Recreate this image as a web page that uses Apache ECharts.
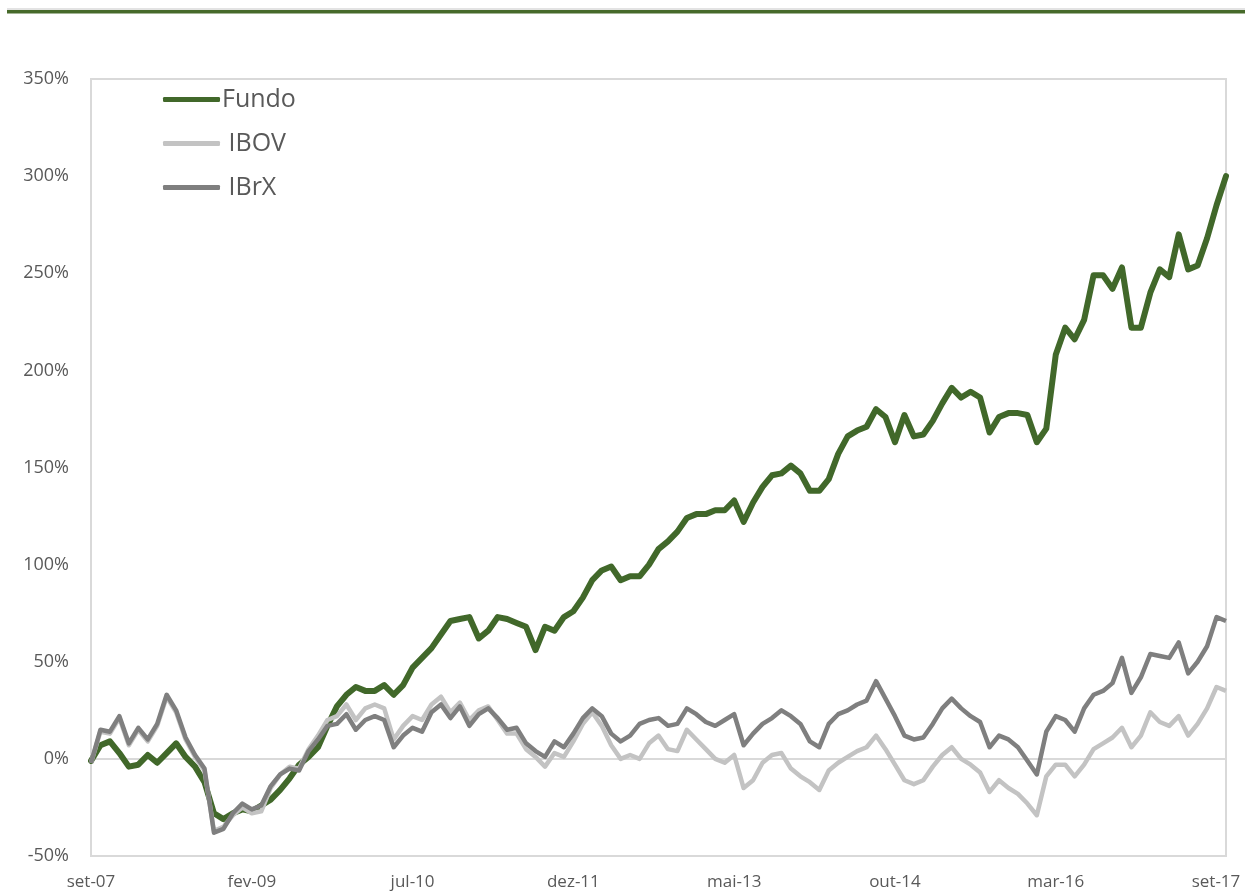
<!DOCTYPE html>
<html>
<head>
<meta charset="utf-8">
<script src="https://cdn.jsdelivr.net/npm/echarts@6/dist/echarts.min.js"></script>
<style>
html,body{margin:0;padding:0;background:#fff;}
#chart{width:1245px;height:891px;}
</style>
</head>
<body>
<div id="chart"></div>
<script>
const monthNames = ['jan','fev','mar','abr','mai','jun','jul','ago','set','out','nov','dez'];
const tickLabels = ['set-07','fev-09','jul-10','dez-11','mai-13','out-14','mar-16','set-17'];
const yTicks = [-50,0,50,100,150,200,250,300,350];

const fundo = [-1,7,9,3,-4,-3,2,-2,3,8,1,-4,-12,-28,-31,-28,-26,-27,-24,-21,
  -16,-10,-3,1,6,17,27,33,37,35,35,38,33,38,47,52,57,64,71,72,
  73,62,66,73,72,70,68,56,68,66,73,76,83,92,97,99,92,94,94,100,
  108,112,117,124,126,126,128,128,133,122,132,140,146,147,151,147,138,138,144,157,
  166,169,171,180,176,163,177,166,167,174,183,191,186,189,186,168,176,178,178,177,
  163,170,208,222,216,226,249,249,242,253,222,222,240,252,248,270,252,254,268,285,300];

const ibov = [-2,14,13,21,7,15,9,17,32,24,10,1,-6,-37,-35,-29,-25,-28,-27,-15,
  -8,-4,-5,5,12,20,22,28,20,26,28,26,10,17,22,20,28,32,24,29,
  20,25,27,20,13,13,5,1,-4,3,1,9,18,24,17,7,0,2,0,8,
  12,5,4,15,10,5,0,-2,2,-15,-11,-2,2,3,-5,-9,-12,-16,-6,-2,
  1,4,6,12,5,-3,-11,-13,-11,-4,2,6,0,-3,-7,-17,-11,-15,-18,-23,
  -29,-9,-3,-3,-9,-3,5,8,11,16,6,12,24,19,17,22,12,18,26,37,35];

const ibrx = [-2,15,14,22,8,16,10,18,33,25,11,2,-5,-38,-36,-28,-23,-26,-24,-14,
  -8,-5,-6,4,10,17,18,23,15,20,22,20,6,12,16,14,24,28,21,27,
  17,23,26,21,15,16,8,4,1,9,6,13,21,26,22,13,9,12,18,20,
  21,17,18,26,23,19,17,20,23,7,13,18,21,25,22,18,9,6,18,23,
  25,28,30,40,31,22,12,10,11,18,26,31,26,22,19,6,12,10,6,-1,
  -8,14,22,20,14,26,33,35,39,52,34,42,54,53,52,60,44,50,58,73,71];

const categories = [];
for (let i = 0; i < fundo.length; i++) {
  const m = (8 + i) % 12;
  const y = 7 + Math.floor((8 + i) / 12);
  categories.push(monthNames[m] + '-' + String(y).padStart(2, '0'));
}
const lastLabel = tickLabels[tickLabels.length - 1];

const chart = echarts.init(document.getElementById('chart'));
const zeroColors = yTicks.map(v => v === 0 ? '#d9d9d9' : 'rgba(0,0,0,0)');

chart.setOption({
  animation: false,
  backgroundColor: '#fff',
  graphic: [
    {type: 'rect', shape: {x: 7, y: 8.5, width: 1238, height: 1}, style: {fill: '#c8c8c8'}},
    {type: 'rect', shape: {x: 7, y: 10, width: 1238, height: 3.5}, style: {fill: '#466a2a'}}
  ],
  grid: {
    left: 91, right: 19, top: 79, bottom: 35,
    outerBoundsMode: 'none',
    containLabel: false,
    show: true, borderColor: '#d9d9d9', borderWidth: 2, backgroundColor: 'transparent'
  },
  legend: {
    orient: 'vertical',
    left: 158, top: 82,
    itemWidth: 57, itemHeight: 5, itemGap: 19,
    icon: 'roundRect',
    formatter: n => n === 'Fundo' ? n : ' ' + n,
    textStyle: {fontFamily: 'Open Sans', fontSize: 25, color: '#595959', padding: [0,0,0,-3]},
    data: ['Fundo', 'IBOV', 'IBrX']
  },
  xAxis: {
    type: 'category',
    data: categories,
    boundaryGap: false,
    axisLine: {show: false},
    axisTick: {show: false},
    splitLine: {show: false},
    axisLabel: {
      interval: (i, v) => tickLabels.indexOf(v) >= 0,
      margin: 18,
      fontFamily: 'Liberation Sans Narrow, Open Sans',
      fontSize: 17,
      color: '#595959',
      formatter: v => v === lastLabel ? '{last|' + v + '}' : v,
      rich: {last: {padding: [0, 20, 0, 0], fontFamily: 'Liberation Sans Narrow, Open Sans', fontSize: 17, color: '#595959'}}
    }
  },
  yAxis: {
    type: 'value',
    min: -50, max: 350, interval: 50,
    axisLine: {show: false},
    axisTick: {show: false},
    axisLabel: {
      formatter: '{value}%',
      margin: 22,
      fontFamily: 'Open Sans',
      fontSize: 18,
      color: '#595959'
    },
    splitLine: {show: true, lineStyle: {color: zeroColors, width: 2}}
  },
  series: [
    {name: 'Fundo', type: 'line', data: fundo, showSymbol: false, symbol: 'none',
      lineStyle: {color: '#41682a', width: 6, join: 'round', cap: 'round'}, itemStyle: {color: '#41682a'}},
    {name: 'IBOV', type: 'line', data: ibov, showSymbol: false, symbol: 'none',
      lineStyle: {color: '#c3c3c3', width: 4.5, join: 'round'}, itemStyle: {color: '#c3c3c3'}},
    {name: 'IBrX', type: 'line', data: ibrx, showSymbol: false, symbol: 'none',
      lineStyle: {color: '#7f7f7f', width: 4.5, join: 'round'}, itemStyle: {color: '#7f7f7f'}}
  ]
});
</script>
</body>
</html>
